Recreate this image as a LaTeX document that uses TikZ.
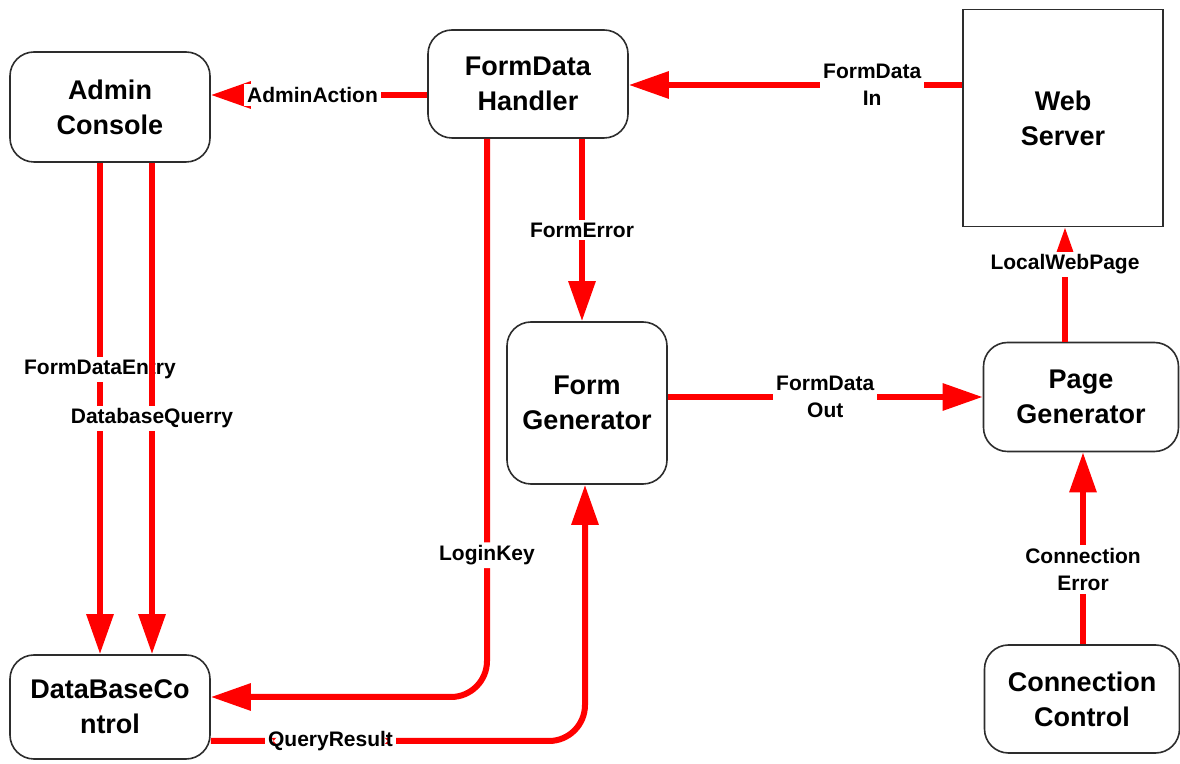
\documentclass[tikz,border=0pt]{standalone}
\usepackage{fontspec}
\setmainfont{Liberation Sans}
\usepackage{tikz}
\usetikzlibrary{arrows.meta}
\definecolor{FlowRed}{RGB}{255,0,0}
\definecolor{BoxLine}{RGB}{45,45,45}

\begin{document}
\begin{tikzpicture}[x=0.5pt,y=-0.5pt,proc/.style n args={2}{draw=BoxLine,line width=0.8pt,rounded corners=12pt,minimum width=#1,minimum height=#2,align=center,inner sep=0pt,font=\fontsize{13.5}{17.5}\selectfont\bfseries},flow/.style={FlowRed,line width=3pt,-{Triangle[length=20pt,width=13pt]}},lbl/.style={fill=white,text=black,inner sep=1.5pt,align=center,font=\fontsize{10.5}{13.5}\selectfont\bfseries}]
\useasboundingbox (0,0) rectangle (1180,764);
\node[proc={100pt}{55pt}] (admin) at (110,107) {Admin\\Console};
\node[proc={100pt}{54pt}] (fdh) at (528,84) {FormData\\Handler};
\node[proc={100pt}{108.5pt},sharp corners] (web) at (1063,118) {Web\\Server};
\node[proc={80pt}{81pt}] (formgen) at (587,403) {Form\\Generator};
\node[proc={97.5pt}{54.5pt}] (pagegen) at (1081,397) {Page\\Generator};
\node[proc={100pt}{52pt}] (dbc) at (110,707) {DataBaseCo\\ntrol};
\node[proc={97.5pt}{54pt}] (conn) at (1082,699) {Connection\\Control};
\draw[flow] (fdh.west |- 0,95) -- node[lbl,pos=0.53]{AdminAction} (admin.east |- 0,95);
\draw[flow] (web.west |- 0,85) -- node[lbl,pos=0.27]{FormData\\In} (fdh.east |- 0,85);
\draw[flow] (582,0 |- fdh.south) -- node[lbl]{FormError} (582,0 |- formgen.north);
\foreach \x/\p/\l in %
{100/0.42/FormDataEntry,152/0.52/DatabaseQuerry} {
   \draw[flow] (\x,0 |- admin.south) -- node[lbl,pos=\p]{\l} (\x,0 |- dbc.north);
}
\draw[flow,rounded corners=18pt] (487,0 |- fdh.south) |- node[lbl,pos=0.373]{LoginKey} (dbc.east |- 0,697);
\draw[flow,rounded corners=18pt] (dbc.east |- 0,741) -| node[lbl,pos=0.16]{QueryResult} (585,0 |- formgen.south);
\draw[flow] (formgen.east |- 0,397) -- node[lbl]{FormData\\Out} (pagegen.west |- 0,397);
\draw[flow] (1065,0 |- pagegen.north) -- node[lbl,pos=0.675]{LocalWebPage} (1065,0 |- web.south);
\draw[flow] (1083,0 |- conn.north) -- node[lbl,pos=0.39]{Connection\\Error} (1083,0 |- pagegen.south);
\end{tikzpicture}
\end{document}
